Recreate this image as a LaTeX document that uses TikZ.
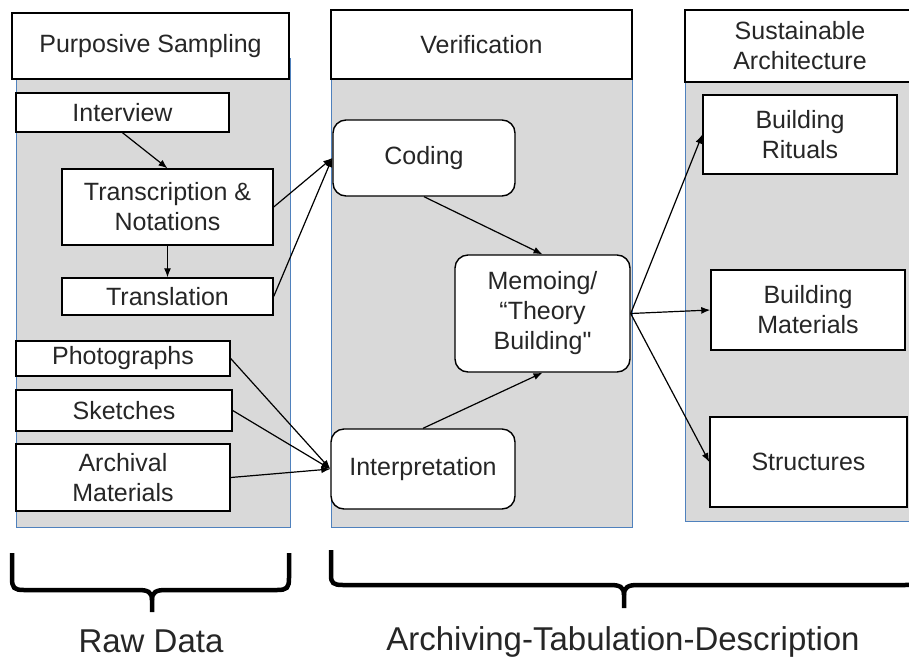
\documentclass[tikz,border=0pt]{standalone}
\usepackage{fontspec}
\setmainfont{Liberation Sans}
\newfontfamily\rawquote{Liberation Sans}
\usepackage[HTML]{xcolor}
\usetikzlibrary{arrows.meta}
\definecolor{panelgrey}{HTML}{D9D9D9}
\definecolor{panelblue}{HTML}{4F81BD}
\definecolor{textgrey}{HTML}{262626}

\begin{document}
\begin{tikzpicture}[x=1pt,y=-1pt,
  panel/.style={fill=panelgrey,draw=panelblue,line width=1pt},
  box/.style={draw=black,fill=white,line width=1.4pt,inner sep=0pt,align=center,
    text=textgrey,font=\fontsize{25}{30}\selectfont},
  rbox/.style={box,rounded corners=13pt},
  arr/.style={-{Latex[length=9pt,width=7pt]},line width=1.2pt},
  bracket/.style={line width=4.5pt},
  bottomtext/.style={text=textgrey,anchor=base,inner sep=0pt,font=\fontsize{33}{36}\selectfont}]
\useasboundingbox (0,0) rectangle (909,659);

% panels
\node[panel,minimum width=274pt,minimum height=469pt] (rawpanel) at (153,292.5) {};
\node[panel,minimum width=301pt,minimum height=467pt] (verpanel) at (481.5,293.5) {};
\node[panel,minimum width=230pt,minimum height=461pt] (archpanel) at (800,290.5) {};

% headers
\node[box,minimum width=277pt,minimum height=66pt] (samplehead) at (150.5,46) {Purposive Sampling};
\node[box,minimum width=301pt,minimum height=69pt] (verhead) at (481.5,44.5) {Verification};
\node[box,minimum width=230pt,minimum height=72pt] (archhead) at (800,46) {Sustainable\\Architecture};

% raw data
\node[box,minimum width=213pt,minimum height=39pt] (interview) at (122.5,112.5) {Interview};
\node[box,minimum width=211pt,minimum height=76pt] (transcr) at (167.5,207) {Transcription \&\\Notations};
\node[box,minimum width=211pt,minimum height=37pt] (transl) at (167.5,296.5) {Translation};
\node[box,minimum width=214pt,minimum height=35pt] (photos) at (123,358.5) {Photographs};
\node[box,minimum width=216pt,minimum height=41pt] (sketches) at (124,410.5) {Sketches};
\node[box,minimum width=214pt,minimum height=67pt] (archival) at (123,477.5) {Archival\\Materials};

% verification
\node[rbox,minimum width=182pt,minimum height=76pt] (coding) at (424,158) {Coding};
\node[rbox,minimum width=175pt,minimum height=117pt] (memo) at (542.5,313.5) {Memoing/\\“Theory\\Building{\rawquote"}};
\node[rbox,minimum width=184pt,minimum height=80pt] (interp) at (423,469) {Interpretation};

% architecture
\node[box,minimum width=194pt,minimum height=79pt] (rituals) at (800,134.5) {Building\\Rituals};
\node[box,minimum width=194pt,minimum height=80pt] (materials) at (808,310) {Building\\Materials};
\node[box,minimum width=197pt,minimum height=90pt] (structures) at (808.5,462) {Structures};

% arrows
\draw[arr] (interview.south) -- (transcr.north);
\draw[arr] (transcr.south) -- (transl.north);
\draw[arr] (transcr.east) -- (coding.west);
\draw[arr] (transl.east) -- (coding.west);
\draw[arr] (photos.east) -- (interp.west);
\draw[arr] (sketches.east) -- (interp.west);
\draw[arr] (archival.east) -- (interp.west);
\draw[arr] (coding.south) -- (memo.north);
\draw[arr] (interp.north) -- (memo.south);
\draw[arr] (memo.east) -- (rituals.west);
\draw[arr] (memo.east) -- (materials.west);
\draw[arr] (memo.east) -- (structures.west);

% brackets
\draw[bracket] (12,553) -- (12,578) .. controls (12,588) and (14,590) .. (24,590) -- (138,590)
  .. controls (148,590) and (152,592) .. (152,600) -- (152,612);
\draw[bracket] (152,600) .. controls (152,592) and (156,590) .. (166,590) -- (277,590)
  .. controls (287,590) and (289,588) .. (289,578) -- (289,553);
\draw[bracket] (331,550) -- (331,575) .. controls (331,583) and (333,585) .. (343,585) -- (610,585)
  .. controls (620,585) and (624,587) .. (624,595) -- (624,608);
\draw[bracket] (624,595) .. controls (624,587) and (628,585) .. (638,585) -- (905,585)
  .. controls (915,585) and (917,583) .. (917,575) -- (917,550);

\node[bottomtext] (rawdata) at (151,652) {Raw Data};
\node[bottomtext] (atd) at (623,650) {Archiving-Tabulation-Description};
\end{tikzpicture}
\end{document}
